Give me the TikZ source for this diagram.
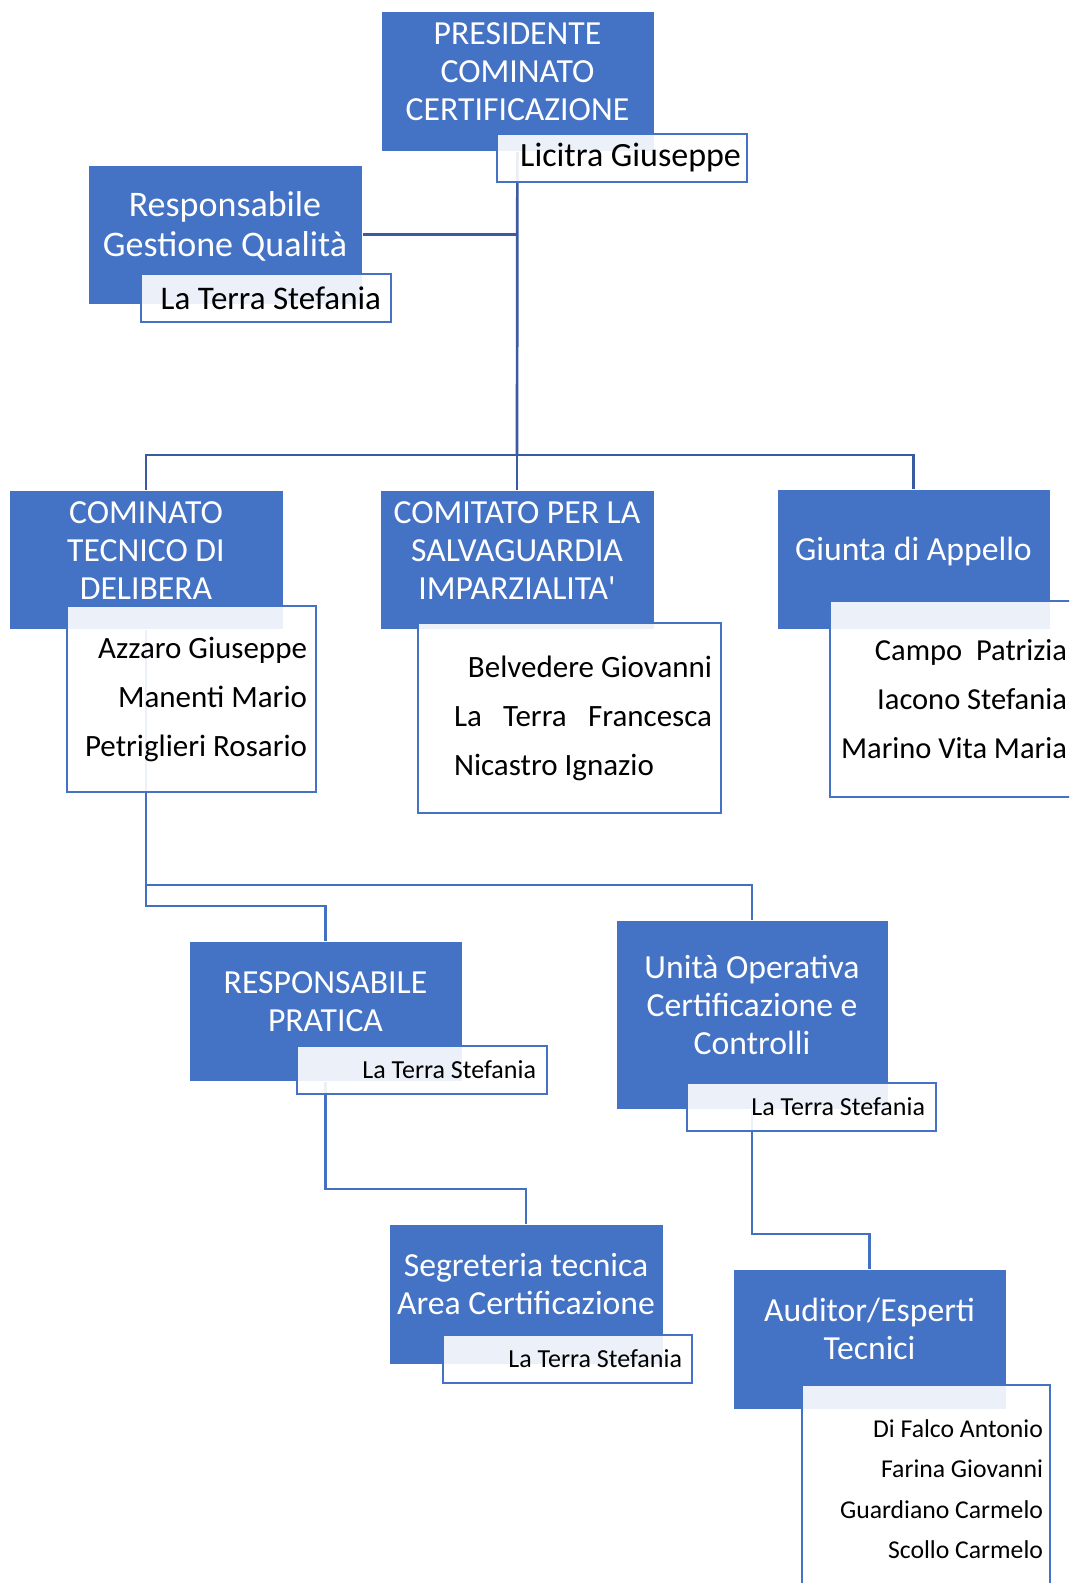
\documentclass[tikz,border=0pt]{standalone}
\usepackage{fontspec}
\setmainfont{Carlito}
\usetikzlibrary{positioning,backgrounds}

\definecolor{boxblue}{HTML}{4472C4}
\definecolor{topline}{HTML}{3A5BA2}
\definecolor{lowline}{HTML}{4470C0}

% text of a coloured block, lifted a bit as in the original
\newcommand{\blocklines}[1]{\begin{tabular}{@{}c@{}}#1\\[12pt]\end{tabular}}

\tikzset{
  unit/.style={fill=boxblue, draw=white, line width=0.8pt, text=white, inner sep=0pt,
    minimum width=273pt, minimum height=140pt, font=\fontsize{33.7}{38}\selectfont},
  members/.style 2 args={draw=boxblue, line width=2.2pt, fill=white, fill opacity=0.9,
    text opacity=1, text=black, inner xsep=9pt, inner ysep=0pt, align=flush right,
    text width=#1pt-18pt, minimum height=#2pt, font=\fontsize{31}{49}\selectfont},
  link/.style={draw=topline, line width=2.7pt},
  sublink/.style={draw=lowline, line width=2.7pt},
}

\begin{document}
\begin{tikzpicture}[x=1pt,y=-1pt]
  \useasboundingbox (0,0) rectangle (1069,1583);
  \clip (0,0) rectangle (1069,1583);

  % Top: president and quality
  \node[unit] (pres) at (517.5,81) {\blocklines{PRESIDENTE\\COMINATO\\CERTIFICAZIONE}};
  \node[members={250}{48}, inner xsep=6pt, text width=238pt, font=\fontsize{34}{38}\selectfont] (presName) at (622,158) {Licitra Giuseppe};
  \node[unit, minimum width=274pt, minimum height=139pt, font=\fontsize{36}{40.5}\selectfont] (quality) at (225,234.5)
    {\blocklines{Responsabile\\Gestione Qualità}};
  \node[members={250}{48}, inner xsep=10pt, text width=230pt, font=\fontsize{33}{38}\selectfont] (qualityName) at (266,298) {La Terra Stefania};

  % Committees
  \node[unit, minimum width=274pt, minimum height=139pt] (delibera) at (146,559.5) {\blocklines{COMINATO\\TECNICO DI\\DELIBERA}};
  \node[members={249}{186}] (deliberaNames) at (191.5,699) {Azzaro Giuseppe\\Manenti Mario\\Petriglieri Rosario};
  \node[unit, minimum width=274pt, minimum height=139pt] (imparz) at (517,559.5) {\blocklines{COMITATO PER LA\\SALVAGUARDIA\\IMPARZIALITA\textquotesingle}};
  \node[members={303}{190}] (imparzNames) at (569.5,718)
    {Belvedere Giovanni\\\makebox[258pt][l]{La\hfill Terra\hfill Francesca}\\\makebox[258pt][l]{Nicastro Ignazio}};
  \node[unit] (appello) at (913.5,559) {\blocklines{Giunta di Appello}};
  \node[members={242}{196}, inner xsep=5pt, text width=232pt, font=\fontsize{30.5}{49}\selectfont] (appelloNames) at (951,699)
    {Campo~ Patrizia\\Iacono Stefania\\Marino Vita Maria};

  % Lower levels
  \node[unit] (pratica) at (325.5,1011) {\blocklines{RESPONSABILE\\PRATICA}};
  \node[members={250}{48}, inner xsep=11pt, text width=228pt, font=\fontsize{26}{30}\selectfont] (praticaName) at (422,1070) {La Terra Stefania};
  \node[unit, minimum width=272pt, minimum height=189pt] (operativa) at (752,1014.5) {\blocklines{Unità Operativa\\Certificazione e\\Controlli}};
  \node[members={249}{48}, inner xsep=11pt, text width=227pt, font=\fontsize{26}{30}\selectfont] (operativaName) at (811.5,1107) {La Terra Stefania};
  \node[unit, minimum width=274pt] (segreteria) at (526,1294) {\blocklines{Segreteria tecnica\\Area Certificazione}};
  \node[members={249}{48}, inner xsep=10pt, text width=229pt, font=\fontsize{26}{30}\selectfont] (segreteriaName) at (567.5,1359) {La Terra Stefania};
  \node[unit] (auditor) at (869.5,1339) {\blocklines{Auditor/Esperti\\Tecnici}};
  \node[members={248}{208}, inner xsep=7pt, text width=234pt, font=\fontsize{25.7}{40.4}\selectfont] (auditorNames) at (926,1489)
    {Di Falco Antonio\\Farina Giovanni\\Guardiano Carmelo\\Scollo Carmelo};

  % Connectors (behind the boxes)
  \coordinate (bus) at (517,455);
  \coordinate (splitA) at (146,885);
  \coordinate (splitB) at (146,906);
  \coordinate (bendC) at (400,1189);
  \coordinate (bendD) at (800,1234);
  \begin{pgfonlayer}{background}
    \draw[link] (pres.center) -- (bus);
    \draw[link] (quality.east) -- (quality.east -| pres.center);
    \draw[link] (delibera.north) |- (bus) -| (appello.north);
    \draw[link] (bus) -- (imparz.north);
    \draw[sublink] (delibera.center) -- (splitA) -| (operativa.north);
    \draw[sublink] (splitA) -- (splitB) -| (pratica.north);
    \draw[sublink] (pratica.center) |- (bendC) -| (segreteria.north);
    \draw[sublink] (operativa.center) |- (bendD) -| (auditor.north);
  \end{pgfonlayer}
\end{tikzpicture}
\end{document}
